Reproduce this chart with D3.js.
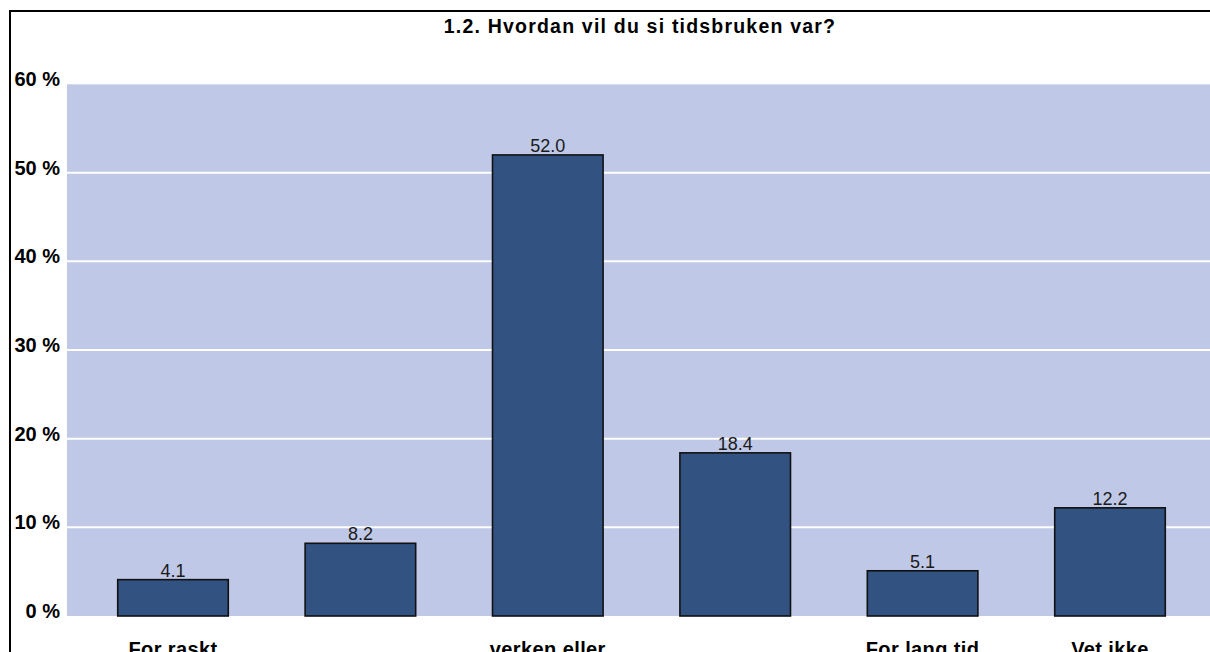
<!DOCTYPE html>
<html>
<head>
<meta charset="utf-8">
<script src="https://cdn.jsdelivr.net/npm/d3@7"></script>
<style>
html,body{margin:0;padding:0;background:#fff;overflow:hidden;}
svg{display:block;font-family:"Liberation Sans",Arial,sans-serif;}
</style>
</head>
<body>
<svg id="chart" width="1210" height="652"></svg>
<script>
const title = "1.2. Hvordan vil du si tidsbruken var?";
const categories = ["c1","c2","c3","c4","c5","c6"];
const categoryLabels = ["For raskt","","verken eller","","For lang tid","Vet ikke"];
const values = [4.1, 8.2, 52.0, 18.4, 5.1, 12.2];
const yTicks = [0,10,20,30,40,50,60];
const yTickLabels = ["0 %","10 %","20 %","30 %","40 %","50 %","60 %"];

const svg = d3.select("#chart");
const W = 1210, H = 652;
const plot = {left:67, right:1210, top:84, bottom:616};

// frame
svg.append("rect").attr("x",10).attr("y",11).attr("width",W+20).attr("height",H+20)
  .attr("fill","none").attr("stroke","#000").attr("stroke-width",2);

const y = d3.scaleLinear().domain([0,60]).range([plot.bottom, plot.top]);
const x = d3.scaleBand().domain(categories).range([79.3, 1203.7])
  .paddingInner(0.41).paddingOuter(0.205);

// plot background
svg.append("rect").attr("x",plot.left).attr("y",plot.top)
  .attr("width",plot.right-plot.left).attr("height",plot.bottom-plot.top)
  .attr("fill","#BFC8E6");
svg.append("line").attr("x1",plot.left).attr("x2",plot.right)
  .attr("y1",plot.top+0.5).attr("y2",plot.top+0.5).attr("stroke","#d6dbec").attr("stroke-width",1);

// gridlines
svg.append("g").selectAll("line").data(yTicks.filter(t=>t>0&&t<60)).join("line")
  .attr("x1",plot.left).attr("x2",plot.right)
  .attr("y1",d=>y(d)).attr("y2",d=>y(d))
  .attr("stroke","#fff").attr("stroke-width",2);

// y axis labels
const yAxis = d3.axisLeft(y).tickValues(yTicks).tickSize(0).tickPadding(0)
  .tickFormat((d,i)=>yTickLabels[i]);
const gy = svg.append("g").attr("transform","translate(60,0)").call(yAxis);
gy.select(".domain").remove();
gy.selectAll("text").attr("font-size",20).attr("font-weight","bold").attr("fill","#000")
  .attr("font-family","Liberation Sans, Arial, sans-serif")
  .attr("dy",null).attr("dominant-baseline","auto")
  .attr("transform","translate(0,1.5)");

// bars
svg.append("g").selectAll("rect").data(values).join("rect")
  .attr("x",(d,i)=>x(categories[i]))
  .attr("y",d=>y(d))
  .attr("width",x.bandwidth())
  .attr("height",d=>y(0)-y(d))
  .attr("fill","#325282").attr("stroke","#111").attr("stroke-width",1.6);

// value labels
svg.append("g").selectAll("text").data(values).join("text")
  .attr("x",(d,i)=>x(categories[i])+x.bandwidth()/2)
  .attr("y",d=>y(d)-3)
  .attr("text-anchor","middle").attr("font-size",18).attr("fill","#1a1a1a")
  .text(d=>d.toFixed(1));

// x axis labels
const xAxis = d3.axisBottom(x).tickSize(0).tickPadding(0)
  .tickFormat((d,i)=>categoryLabels[i]);
const gx = svg.append("g").attr("transform","translate(0,655.5)").call(xAxis);
gx.select(".domain").remove();
gx.selectAll("text").attr("font-size",20).attr("font-weight","bold").attr("fill","#000")
  .attr("font-family","Liberation Sans, Arial, sans-serif")
  .attr("dy",null).attr("y",0).attr("letter-spacing",0.4);

// title
svg.append("text").attr("x",640).attr("y",33.3).attr("text-anchor","middle")
  .attr("font-size",19.5).attr("font-weight","bold").attr("letter-spacing",1.2)
  .attr("fill","#000").text(title);
</script>
</body>
</html>
